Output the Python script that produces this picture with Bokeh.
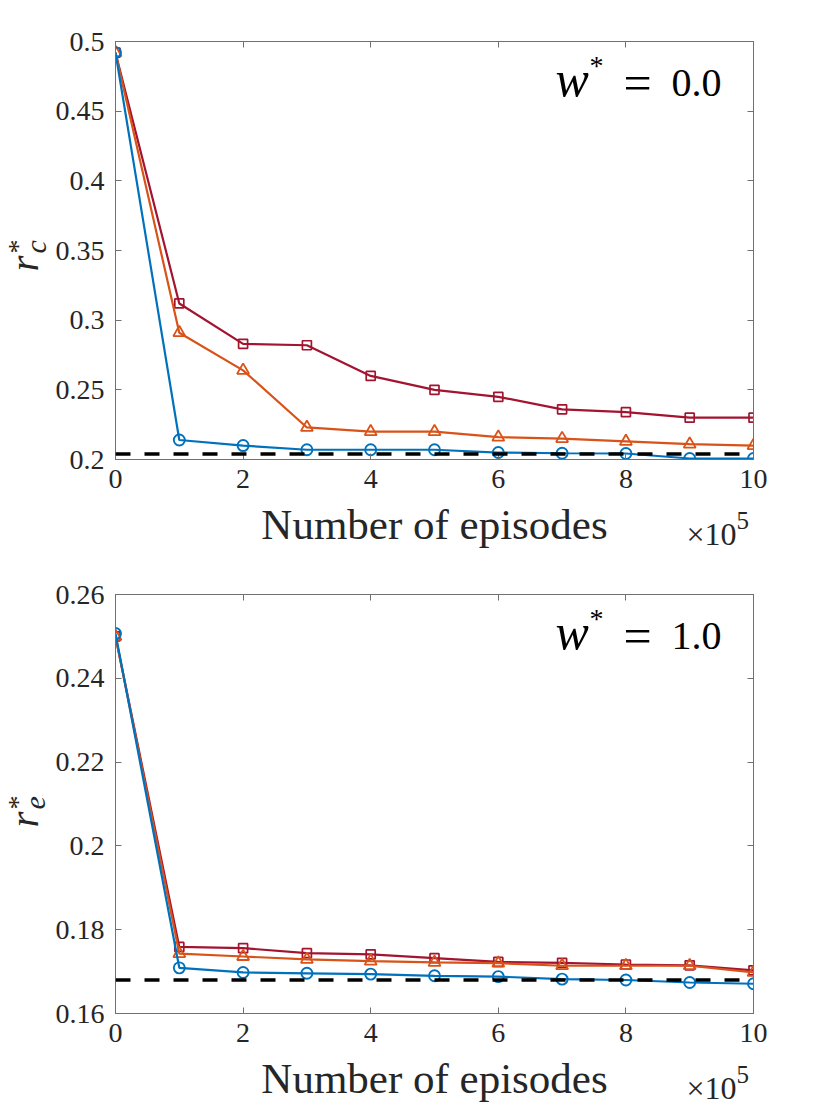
import math
from bokeh.plotting import figure
from bokeh.models import LinearAxis, FixedTicker, Label, Span
from bokeh.layouts import column, row
from bokeh.embed import file_html
from bokeh.resources import INLINE

# ---------------- data ----------------
episodes = [0, 1, 2, 3, 4, 5, 6, 7, 8, 9, 10]          # x 10^5
x_ticks = [0, 2, 4, 6, 8, 10]
x_tick_labels = ["0", "2", "4", "6", "8", "10"]

# top panel: r_c^*, w^* = 0.0
rc_red = [0.492, 0.312, 0.283, 0.282, 0.260, 0.250, 0.245, 0.236, 0.234, 0.230, 0.230]
rc_orange = [0.492, 0.291, 0.264, 0.223, 0.220, 0.220, 0.216, 0.215, 0.213, 0.211, 0.210]
rc_blue = [0.492, 0.214, 0.210, 0.207, 0.207, 0.207, 0.205, 0.2045, 0.2043, 0.2007, 0.2007]
rc_ref = 0.204
top_y_ticks = [0.2, 0.25, 0.3, 0.35, 0.4, 0.45, 0.5]
top_y_labels = ["0.2", "0.25", "0.3", "0.35", "0.4", "0.45", "0.5"]

# bottom panel: r_e^*, w^* = 1.0
re_red = [0.250, 0.1759, 0.1756, 0.1744, 0.1741, 0.1732, 0.1723, 0.1721, 0.1717, 0.1715, 0.1703]
re_orange = [0.250, 0.1743, 0.1736, 0.1729, 0.1725, 0.1722, 0.1720, 0.1714, 0.1714, 0.1714, 0.1698]
re_blue = [0.2507, 0.1709, 0.1698, 0.1696, 0.1694, 0.1690, 0.1688, 0.1682, 0.1680, 0.1674, 0.1671]
re_ref = 0.168
bot_y_ticks = [0.16, 0.18, 0.2, 0.22, 0.24, 0.26]
bot_y_labels = ["0.16", "0.18", "0.2", "0.22", "0.24", "0.26"]

x_label = "Number of episodes"
x_multiplier = "×10"
x_exponent = "5"
panel_values = ["0.0", "1.0"]
subscripts = ["c", "e"]

# ---------------- style ----------------
SERIF = "Liberation Serif, serif"
AX = "#707070"
TXT = "#262626"
BLUE = "#0072BD"
ORANGE = "#D95319"
RED = "#A2142F"

MAIN_LEFT, FRAME_W, MAIN_RIGHT = 63, 638, 60
MAIN_TOP, MAIN_BOTTOM = 41, 41
STRIP_W = 52
XSTRIP_H = 53


def lbl(x, y, text, size, style="normal", angle=0.0, color=TXT, align="left"):
    return Label(x=x, y=y, x_units="screen", y_units="screen", text=text,
                 angle=angle, text_font=SERIF, text_font_style=style,
                 text_font_size=size, text_color=color,
                 text_align=align, text_baseline="alphabetic")


def blank(width, height):
    f = figure(width=width, height=height, min_border=0,
               x_axis_type=None, y_axis_type=None,
               output_backend="svg", toolbar_location=None,
               background_fill_color="white", border_fill_color="white")
    f.outline_line_color = None
    f.grid.visible = False
    return f


def style_axis(ax, labels_on=True):
    ax.axis_line_color = AX
    ax.axis_line_width = 1
    ax.major_tick_line_color = AX
    ax.major_tick_in = 6
    ax.major_tick_out = 0
    ax.minor_tick_line_color = None
    if labels_on:
        ax.major_label_text_font = SERIF
        ax.major_label_text_font_size = "28px"
        ax.major_label_text_color = TXT
    else:
        ax.major_label_text_font_size = "0px"
        ax.major_label_text_color = None
        ax.major_label_standoff = 0


def make_main(red, orange, blue, ref, yticks, ylabels, wval, fh):
    p = figure(frame_width=FRAME_W, frame_height=fh,
               x_range=(0, 10), y_range=(yticks[0], yticks[-1]),
               output_backend="svg", toolbar_location=None,
               min_border_left=MAIN_LEFT, min_border_right=MAIN_RIGHT,
               min_border_top=MAIN_TOP, min_border_bottom=MAIN_BOTTOM,
               background_fill_color="white", border_fill_color="white")
    p.grid.visible = False
    p.outline_line_color = AX
    p.outline_line_width = 1

    p.xaxis.ticker = FixedTicker(ticks=x_ticks)
    p.xaxis.major_label_overrides = {t: s for t, s in zip(x_ticks, x_tick_labels)}
    p.yaxis.ticker = FixedTicker(ticks=yticks)
    p.yaxis.major_label_overrides = {t: s for t, s in zip(yticks, ylabels)}
    style_axis(p.xaxis[0])
    style_axis(p.yaxis[0])
    p.xaxis.major_label_standoff = 10
    p.yaxis.major_label_standoff = 11

    top_ax = LinearAxis(ticker=FixedTicker(ticks=x_ticks))
    right_ax = LinearAxis(ticker=FixedTicker(ticks=yticks))
    style_axis(top_ax, labels_on=False)
    style_axis(right_ax, labels_on=False)
    p.add_layout(top_ax, "above")
    p.add_layout(right_ax, "right")

    p.add_layout(Span(location=ref, dimension="width", line_color="black",
                      line_width=3.5, line_dash="15 14"))

    p.line(episodes, red, line_color=RED, line_width=2.2)
    p.scatter(episodes, red, marker="square", size=9, line_color=RED,
              line_width=1.7, fill_color=None)
    p.line(episodes, orange, line_color=ORANGE, line_width=2.2)
    p.scatter(episodes, orange, marker="triangle", size=12, line_color=ORANGE,
              line_width=1.8, fill_color=None)
    p.line(episodes, blue, line_color=BLUE, line_width=2.2)
    p.scatter(episodes, blue, marker="circle", size=11, line_color=BLUE,
              line_width=1.9, fill_color=None)

    # panel annotation  w^* = value
    dy = fh - 418
    p.add_layout(lbl(440, 381 + dy, "w", "50px", style="italic", color="black"))
    p.add_layout(lbl(474, 394 + dy, "*", "28px", color="black"))
    p.add_layout(lbl(508, 377 + dy, "=", "50px", color="black"))
    p.add_layout(lbl(556, 377 + dy, wval, "40px", color="black"))
    return p


def make_ylabel_strip(sub, height, base):
    s = blank(STRIP_W, height)
    rot = math.pi / 2
    s.add_layout(lbl(23, base, "r", "41px", style="italic", angle=rot))
    s.add_layout(lbl(34.5, base + 18, sub, "30px", style="italic", angle=rot))
    s.add_layout(lbl(16.5, base + 18, "*", "28px", angle=rot))
    return s


def make_xlabel_strip():
    # this strip's frame lines up with the main frame in the column
    b = blank(MAIN_LEFT + FRAME_W + MAIN_RIGHT, XSTRIP_H)
    b.add_layout(lbl(FRAME_W / 2, 29, x_label, "43px", align="center"))
    b.add_layout(lbl(571, 20, x_multiplier, "32px"))
    b.add_layout(lbl(621, 33, x_exponent, "25px"))
    return b


# top panel: main 41+418+41 = 500, x-label strip 53 -> 553
m1 = make_main(rc_red, rc_orange, rc_blue, rc_ref, top_y_ticks, top_y_labels,
               panel_values[0], 418)
b1 = make_xlabel_strip()
s1 = make_ylabel_strip(subscripts[0], 553, 282)

# bottom panel: main 41+419+41 = 501, x-label strip 53 -> 554
m2 = make_main(re_red, re_orange, re_blue, re_ref, bot_y_ticks, bot_y_labels,
               panel_values[1], 419)
b2 = make_xlabel_strip()
s2 = make_ylabel_strip(subscripts[1], 554, 280)

layout = column(row(s1, column(m1, b1)), row(s2, column(m2, b2)))
open("out.html", "w").write(file_html(layout, INLINE))
